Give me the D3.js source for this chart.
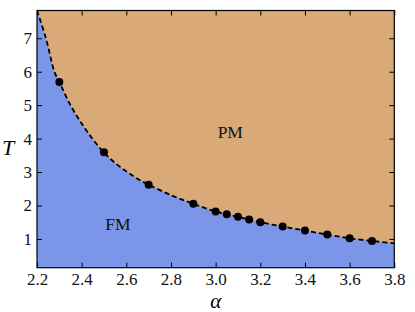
<!DOCTYPE html>
<html><head><meta charset="utf-8">
<script src="https://cdn.jsdelivr.net/npm/d3@7"></script>
<style>body{margin:0;background:#fff}svg{display:block}
svg text{font-family:"Liberation Serif","Times New Roman","DejaVu Serif",serif}</style>
</head><body>
<svg id="c" width="415" height="312"></svg>
<script>
// data points (alpha, T)
const alphaPts = [2.3, 2.5, 2.7, 2.9, 3.0, 3.05, 3.1, 3.15, 3.2, 3.3, 3.4, 3.5, 3.6, 3.7];
const tPts     = [5.69, 3.59, 2.62, 2.05, 1.82, 1.74, 1.66, 1.58, 1.50, 1.37, 1.25, 1.13, 1.02, 0.94];
const errPts   = [0.012, 0.01, 0, 0, 0, 0, 0, 0, 0, 0, 0, 0, 0, 0];
// boundary curve
const curveAlpha = [2.2, 2.24, 2.278, 2.3, 2.35, 2.4, 2.45, 2.5, 2.55, 2.6, 2.65, 2.7, 2.8, 2.9, 3.0, 3.1, 3.2, 3.3, 3.4, 3.5, 3.6, 3.7, 3.8];
const curveT     = [7.83, 7.0, 6.0, 5.69, 5.0, 4.45, 3.98, 3.58, 3.27, 3.02, 2.8, 2.62, 2.31, 2.05, 1.82, 1.66, 1.50, 1.37, 1.25, 1.13, 1.02, 0.94, 0.87];
const xTicks = [2.2, 2.4, 2.6, 2.8, 3.0, 3.2, 3.4, 3.6, 3.8];
const yTicks = [1, 2, 3, 4, 5, 6, 7];
const xDomain = [2.2, 3.8];
const yDomain = [0.14, 7.83];

const svg = d3.select("#c");
const L = 37, T0 = 10.5, R = 394.3, B = 267.7;
const x = d3.scaleLinear().domain(xDomain).range([L, R]);
const y = d3.scaleLinear().domain(yDomain).range([B, T0]);
const serif = "'Liberation Serif','Times New Roman','DejaVu Serif',serif";

svg.append("defs").append("clipPath").attr("id","clip")
  .append("rect").attr("x",L).attr("y",T0).attr("width",R-L).attr("height",B-T0);

const g = svg.append("g").attr("clip-path","url(#clip)");
g.append("rect").attr("x",L).attr("y",T0).attr("width",R-L).attr("height",B-T0).attr("fill","#d9a978");

const cdata = curveAlpha.map((a,i)=>[a, curveT[i]]);
const area = d3.area().x(d=>x(d[0])).y0(B).y1(d=>y(d[1])).curve(d3.curveCatmullRom.alpha(0.5));
g.append("path").datum(cdata).attr("d", area).attr("fill","#7b96e9");
const line = d3.line().x(d=>x(d[0])).y(d=>y(d[1])).curve(d3.curveCatmullRom.alpha(0.5));
g.append("path").datum(cdata).attr("d", line).attr("fill","none")
  .attr("stroke","#000").attr("stroke-width",1.8).attr("stroke-dasharray","5,3");

const pts = alphaPts.map((a,i)=>({a, t:tPts[i], e:errPts[i]}));
g.selectAll("line.err").data(pts.filter(d=>d.e>0)).enter().append("line")
  .attr("x1",d=>x(d.a - d.e)).attr("x2",d=>x(d.a + d.e))
  .attr("y1",d=>y(d.t)).attr("y2",d=>y(d.t)).attr("stroke","#000").attr("stroke-width",3);
g.selectAll("circle").data(pts).enter().append("circle")
  .attr("cx",d=>x(d.a)).attr("cy",d=>y(d.t)).attr("r",4).attr("fill","#000");

// axes (ticks inward on all sides)
const tl = 5;
const ax = svg.append("g");
ax.append("g").attr("transform",`translate(0,${B})`)
  .call(d3.axisBottom(x).tickValues(xTicks).tickFormat(d3.format(".1f")).tickSizeInner(-tl).tickSizeOuter(0).tickPadding(5));
ax.append("g").attr("transform",`translate(0,${T0})`)
  .call(d3.axisTop(x).tickValues(xTicks).tickFormat("").tickSizeInner(-tl).tickSizeOuter(0));
ax.append("g").attr("transform",`translate(${L},0)`)
  .call(d3.axisLeft(y).tickValues(yTicks).tickFormat(d3.format("d")).tickSizeInner(-tl).tickSizeOuter(0).tickPadding(5));
ax.append("g").attr("transform",`translate(${R},0)`)
  .call(d3.axisRight(y).tickValues(yTicks).tickFormat("").tickSizeInner(-tl).tickSizeOuter(0));
ax.selectAll(".domain").remove();
ax.selectAll("g").attr("font-family", serif);
ax.selectAll("line").attr("stroke","#000").attr("stroke-width",1);
ax.selectAll("text").style("font-family",serif).style("font-size","17px").attr("fill","#111");
svg.append("rect").attr("x",L).attr("y",T0).attr("width",R-L).attr("height",B-T0)
  .attr("fill","none").attr("stroke","#000").attr("stroke-width",1.2);

svg.append("text").attr("x",(L+R)/2).attr("y",308).attr("text-anchor","middle")
  .style("font-family",serif).style("font-style","italic").style("font-size","21px").text("α");
svg.append("text").attr("x",8).attr("y",155).attr("text-anchor","middle")
  .style("font-family",serif).style("font-style","italic").style("font-size","22px").text("T");
svg.append("text").attr("x",230.3).attr("y",138.3).attr("text-anchor","middle")
  .style("font-family",serif).style("font-size","17.5px").attr("fill","#111").text("PM");
svg.append("text").attr("x",118).attr("y",230).attr("text-anchor","middle")
  .style("font-family",serif).style("font-size","17.5px").attr("fill","#111").text("FM");
</script>
</body></html>
